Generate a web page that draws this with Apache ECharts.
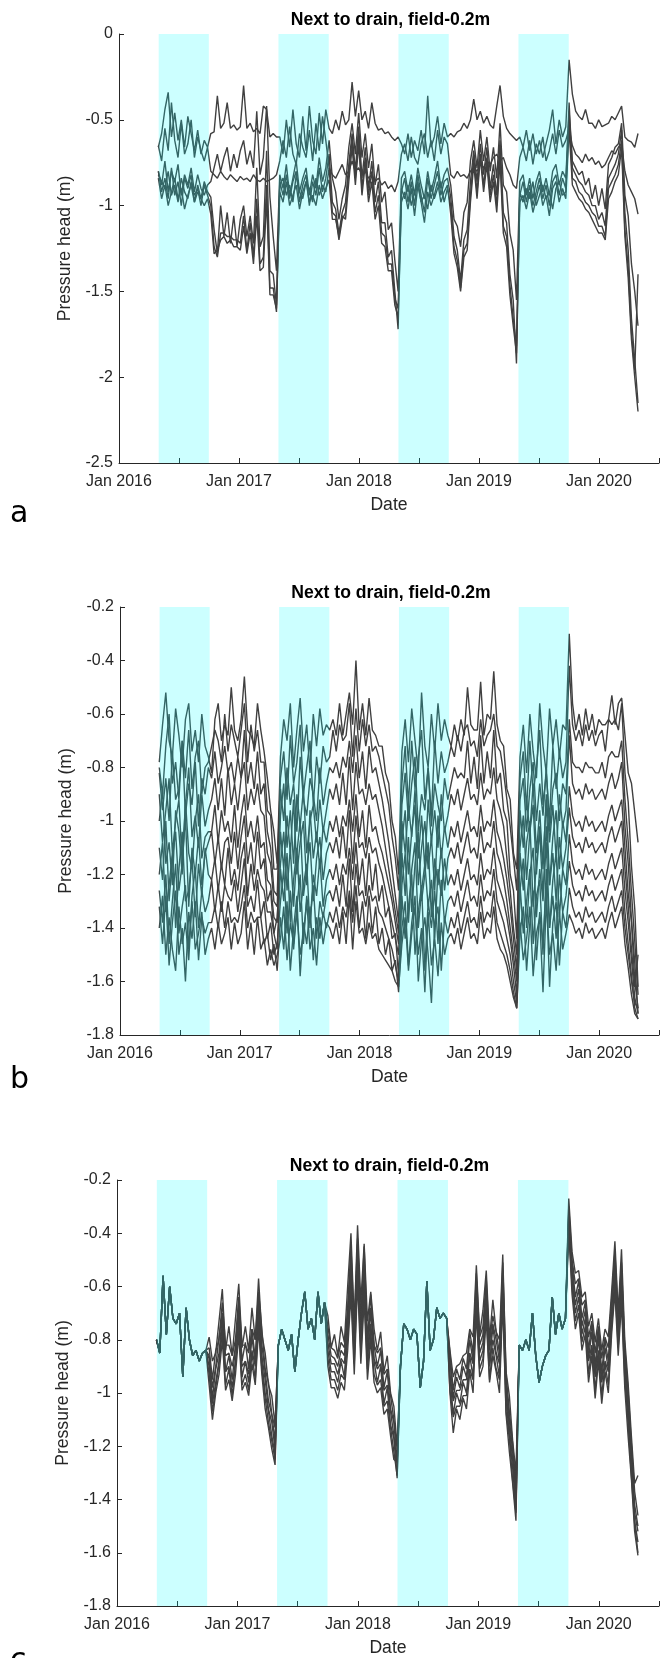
<!DOCTYPE html>
<html>
<head>
<meta charset="utf-8">
<title>Pressure head next to drain</title>
<script src="https://cdn.jsdelivr.net/npm/echarts@6/dist/echarts.min.js"></script>
<style>
  html, body { margin: 0; padding: 0; background: #ffffff; }
  #chart { width: 662px; height: 1658px; }
</style>
</head>
<body>
<div id="chart"></div>
<script>
// ---------------------------------------------------------------------------
// Sampling grid: one value every 10 days, 30 Apr 2016 .. 29 Apr 2020.
// Each series is stored per period: growing season (May-Sep) and off-season
// alternate, starting with the 2016 growing season.
// ---------------------------------------------------------------------------
const firstSample = '2016-04-30';
const sampleStepDays = 10;
const periodLengths = [16, 21, 15, 22, 15, 21, 15, 22];

// Growing seasons, shaded in cyan
const growingSeasons = [
  ['2016-05-01', '2016-10-01'],
  ['2017-05-01', '2017-10-01'],
  ['2018-05-01', '2018-10-01'],
  ['2019-05-01', '2019-10-01']
];

const xTickLabels = ['Jan 2016', 'Jan 2017', 'Jan 2018', 'Jan 2019', 'Jan 2020'];
const panelTitle = 'Next to drain, field-0.2m';
const panelLetters = ['a', 'b', 'c'];
const yTicksA = [0, -0.5, -1, -1.5, -2, -2.5];
const yTicksBC = [-0.2, -0.4, -0.6, -0.8, -1, -1.2, -1.4, -1.6, -1.8];

// ---------------------------------------------------------------------------
// Panel a: pressure head (cm)
// ---------------------------------------------------------------------------
const aLine1 = [
  [-66,-58,-44,-34,-60,-46,-62,-50,-66,-48,-58,-68,-56,-70,-62,-66],
  [-58,-57,-36,-55,-52,-40,-55,-53,-56,-54,-30,-55,-52,-57,-55,-58,-42,-44,-60,-58,-60],
  [-60,-70,-50,-66,-44,-64,-72,-48,-68,-42,-62,-70,-46,-64,-44],
  [-55,-58,-50,-56,-45,-53,-50,-28,-48,-33,-50,-45,-55,-40,-52,-56,-55,-58,-57,-60,-62,-60],
  [-64,-70,-58,-72,-62,-68,-56,-70,-36,-66,-60,-48,-64,-52,-60],
  [-58,-60,-57,-56,-52,-55,-50,-38,-50,-45,-52,-48,-53,-55,-42,-30,-48,-55,-58,-60,-62],
  [-60,-66,-56,-68,-58,-70,-62,-72,-64,-56,-44,-64,-50,-60,-54],
  [-15,-35,-45,-48,-50,-44,-52,-52,-55,-50,-54,-53,-52,-48,-50,-46,-42,-60,-62,-63,-66,-58]
];
const aLine2 = [
  [-65,-74,-55,-68,-40,-62,-72,-52,-70,-64,-50,-72,-60,-68,-74,-66],
  [-80,-82,-84,-80,-83,-85,-82,-84,-86,-83,-85,-84,-86,-82,-85,-86,-84,-86,-85,-84,-82],
  [-74,-62,-72,-54,-70,-76,-58,-66,-72,-56,-74,-52,-68,-48,-62],
  [-78,-82,-84,-80,-76,-82,-80,-74,-80,-78,-82,-80,-84,-82,-86,-84,-88,-86,-90,-88,-92,-86],
  [-70,-64,-74,-60,-72,-76,-64,-58,-72,-62,-74,-56,-70,-60,-64],
  [-82,-84,-80,-83,-82,-84,-80,-78,-80,-76,-78,-74,-76,-72,-70,-74,-72,-78,-82,-88,-90],
  [-72,-66,-74,-62,-76,-64,-70,-60,-74,-68,-58,-70,-56,-66,-62],
  [-55,-65,-70,-72,-75,-70,-74,-72,-76,-74,-78,-76,-72,-68,-70,-66,-64,-80,-88,-92,-96,-105]
];
const aLine3 = [
  [-80,-88,-74,-92,-80,-86,-76,-94,-82,-88,-78,-92,-82,-90,-94,-88],
  [-86,-78,-70,-80,-72,-66,-80,-70,-78,-68,-62,-76,-68,-78,-45,-82,-72,-42,-95,-118,-138],
  [-82,-90,-76,-94,-84,-74,-92,-84,-78,-94,-82,-90,-72,-86,-78],
  [-62,-84,-92,-108,-96,-88,-66,-52,-70,-46,-72,-58,-78,-64,-88,-76,-98,-92,-114,-110,-132,-150],
  [-84,-80,-92,-82,-94,-78,-88,-96,-80,-92,-84,-74,-90,-82,-78],
  [-88,-108,-112,-124,-104,-98,-74,-62,-78,-56,-74,-60,-80,-66,-84,-52,-88,-92,-116,-126,-155],
  [-86,-82,-94,-84,-96,-86,-80,-92,-84,-94,-80,-76,-88,-80,-84],
  [-45,-74,-78,-82,-80,-88,-84,-96,-88,-100,-90,-102,-76,-72,-66,-64,-52,-94,-106,-134,-150,-170]
];
const aLine4 = [
  [-80,-92,-84,-96,-78,-94,-86,-100,-84,-90,-82,-98,-88,-96,-86,-92],
  [-95,-114,-128,-100,-118,-104,-122,-106,-124,-108,-100,-118,-106,-122,-78,-124,-118,-68,-138,-140,-158],
  [-86,-94,-82,-96,-86,-80,-98,-88,-82,-100,-86,-94,-78,-92,-84],
  [-70,-98,-102,-116,-104,-98,-76,-58,-80,-54,-84,-66,-90,-74,-98,-86,-110,-110,-130,-126,-150,-172],
  [-92,-84,-98,-86,-100,-82,-94,-104,-84,-96,-88,-80,-94,-86,-84],
  [-95,-118,-126,-144,-120,-114,-86,-68,-86,-64,-82,-66,-90,-76,-94,-62,-104,-110,-140,-155,-192],
  [-94,-86,-98,-88,-100,-92,-84,-96,-88,-100,-86,-82,-94,-84,-90],
  [-40,-78,-82,-86,-88,-92,-94,-100,-100,-108,-104,-112,-84,-80,-76,-70,-56,-104,-126,-166,-190,-215]
];
const aLine5 = [
  [-82,-86,-90,-80,-94,-88,-98,-84,-92,-96,-86,-94,-90,-100,-88,-94],
  [-100,-124,-130,-116,-116,-118,-118,-120,-120,-122,-106,-126,-110,-130,-96,-134,-130,-88,-148,-148,-162],
  [-88,-84,-94,-88,-98,-82,-92,-96,-86,-90,-98,-84,-94,-88,-92],
  [-78,-104,-106,-120,-108,-104,-80,-62,-84,-58,-90,-72,-94,-80,-104,-94,-116,-118,-134,-134,-154,-160],
  [-90,-96,-88,-100,-92,-86,-98,-94,-102,-88,-96,-90,-86,-98,-90],
  [-100,-124,-132,-148,-126,-122,-94,-72,-92,-70,-88,-72,-94,-82,-100,-68,-112,-118,-146,-166,-182],
  [-92,-98,-90,-96,-86,-100,-94,-88,-96,-92,-102,-90,-86,-94,-92],
  [-50,-84,-86,-92,-94,-98,-100,-104,-106,-112,-112,-118,-90,-86,-82,-76,-62,-114,-136,-174,-196,-140]
];
const aLine6 = [
  [-84,-96,-88,-100,-92,-84,-96,-90,-102,-94,-88,-98,-92,-96,-100,-96],
  [-105,-128,-126,-120,-118,-122,-120,-124,-124,-126,-112,-128,-116,-134,-106,-138,-136,-96,-152,-152,-160],
  [-92,-98,-86,-100,-94,-88,-102,-92,-86,-98,-94,-100,-88,-96,-90],
  [-85,-108,-108,-118,-106,-108,-86,-66,-88,-64,-94,-76,-98,-86,-108,-100,-122,-124,-138,-138,-158,-165],
  [-98,-92,-102,-90,-106,-88,-98,-110,-92,-100,-94,-86,-98,-92,-88],
  [-105,-128,-136,-150,-130,-126,-98,-76,-96,-72,-92,-76,-98,-86,-104,-74,-116,-124,-152,-170,-186],
  [-98,-94,-102,-92,-104,-96,-88,-100,-94,-106,-90,-86,-98,-90,-96],
  [-55,-88,-92,-96,-98,-102,-104,-108,-112,-116,-116,-120,-96,-92,-86,-82,-66,-118,-142,-178,-200,-220]
];

// ---------------------------------------------------------------------------
// Panel b: pressure head (cm)
// ---------------------------------------------------------------------------
const bLine1 = [
  [-78,-64,-52,-70,-76,-58,-68,-80,-62,-56,-74,-66,-78,-60,-72,-76],
  [-82,-62,-56,-70,-64,-68,-50,-66,-70,-62,-46,-66,-68,-72,-56,-66,-74,-84,-96,-104,-116],
  [-76,-62,-70,-56,-80,-66,-54,-74,-64,-82,-60,-72,-58,-68,-64],
  [-66,-62,-68,-56,-68,-60,-52,-64,-40,-66,-56,-68,-54,-66,-68,-72,-72,-82,-86,-100,-106,-120],
  [-74,-62,-78,-58,-70,-82,-52,-72,-80,-60,-74,-56,-70,-62,-68],
  [-72,-64,-70,-62,-68,-50,-64,-66,-66,-48,-68,-60,-62,-44,-64,-70,-72,-88,-92,-112,-118],
  [-76,-64,-82,-60,-74,-84,-56,-72,-82,-58,-72,-62,-76,-64,-66],
  [-30,-56,-66,-60,-68,-58,-66,-60,-68,-62,-64,-64,-62,-53,-64,-56,-54,-68,-82,-86,-97,-108]
];
const bLine2 = [
  [-80,-90,-72,-60,-86,-78,-92,-70,-84,-66,-88,-76,-70,-90,-80,-78],
  [-72,-66,-70,-78,-60,-74,-64,-70,-76,-66,-56,-78,-64,-74,-66,-78,-78,-96,-98,-118,-118],
  [-84,-74,-92,-68,-86,-78,-64,-90,-80,-70,-94,-76,-86,-72,-78],
  [-76,-66,-74,-64,-70,-68,-56,-76,-58,-74,-62,-72,-64,-74,-72,-76,-82,-88,-94,-106,-114,-126],
  [-86,-72,-94,-70,-88,-76,-66,-92,-80,-98,-70,-86,-74,-82,-78],
  [-72,-76,-68,-74,-66,-64,-72,-70,-76,-62,-72,-68,-66,-60,-72,-74,-82,-92,-102,-114,-126],
  [-84,-74,-96,-70,-90,-80,-66,-94,-82,-100,-72,-88,-74,-84,-78],
  [-42,-64,-70,-66,-72,-64,-70,-66,-72,-68,-66,-74,-62,-64,-62,-66,-56,-82,-93,-117,-133,-162]
];
const bLine3 = [
  [-82,-96,-84,-100,-74,-92,-88,-70,-98,-86,-94,-78,-102,-84,-90,-80],
  [-84,-74,-86,-80,-72,-82,-78,-86,-76,-84,-66,-86,-78,-88,-74,-90,-86,-104,-110,-126,-128],
  [-88,-100,-80,-94,-86,-104,-76,-92,-98,-84,-90,-100,-80,-94,-86],
  [-80,-82,-78,-84,-76,-80,-70,-82,-68,-84,-74,-88,-72,-82,-80,-86,-92,-100,-108,-118,-128,-138],
  [-94,-82,-100,-86,-76,-104,-90,-96,-80,-102,-86,-94,-100,-84,-92],
  [-86,-80,-84,-82,-84,-70,-86,-76,-88,-68,-86,-74,-84,-66,-86,-82,-96,-100,-120,-126,-144],
  [-92,-84,-104,-88,-78,-100,-86,-98,-80,-104,-88,-82,-100,-86,-90],
  [-62,-78,-80,-80,-82,-78,-80,-80,-82,-82,-78,-84,-76,-74,-76,-76,-70,-92,-108,-127,-145,-165]
];
const bLine4 = [
  [-90,-108,-96,-84,-112,-100,-92,-116,-94,-80,-106,-98,-110,-90,-102,-96],
  [-92,-84,-96,-84,-98,-80,-94,-86,-96,-84,-78,-96,-88,-94,-86,-96,-98,-112,-116,-130,-132],
  [-98,-86,-110,-96,-116,-90,-102,-88,-112,-100,-94,-108,-92,-104,-96],
  [-88,-92,-86,-94,-82,-94,-76,-96,-78,-90,-88,-94,-86,-92,-90,-96,-102,-110,-118,-126,-134,-142],
  [-100,-112,-94,-106,-88,-114,-98,-118,-92,-108,-96,-110,-90,-104,-98],
  [-90,-94,-88,-96,-90,-84,-92,-90,-94,-82,-92,-88,-90,-80,-92,-96,-102,-114,-126,-140,-150],
  [-96,-110,-92,-104,-86,-112,-96,-118,-90,-108,-94,-114,-90,-102,-96],
  [-68,-86,-90,-88,-92,-86,-90,-88,-92,-90,-88,-92,-86,-82,-88,-84,-78,-102,-116,-137,-153,-172]
];
const bLine5 = [
  [-100,-88,-116,-108,-124,-96,-104,-120,-92,-112,-118,-100,-90,-114,-106,-104],
  [-104,-94,-108,-96,-104,-100,-108,-94,-110,-98,-90,-106,-100,-108,-98,-110,-108,-122,-124,-136,-138],
  [-104,-118,-98,-112,-92,-120,-108,-100,-124,-96,-114,-104,-118,-102,-108],
  [-100,-104,-98,-106,-98,-102,-92,-104,-90,-106,-96,-110,-94,-104,-102,-108,-112,-118,-124,-130,-138,-146],
  [-108,-96,-120,-104,-94,-124,-110,-100,-118,-106,-126,-98,-114,-102,-110],
  [-102,-106,-100,-108,-102,-96,-104,-102,-106,-94,-104,-100,-102,-92,-104,-108,-114,-122,-132,-144,-156],
  [-110,-98,-122,-104,-94,-120,-102,-116,-92,-124,-106,-96,-118,-100,-108],
  [-87,-98,-102,-100,-104,-98,-102,-100,-104,-102,-100,-104,-98,-94,-100,-96,-92,-110,-127,-138,-160,-170]
];
const bLine6 = [
  [-110,-122,-100,-130,-114,-104,-126,-116,-98,-132,-110,-120,-106,-124,-112,-108],
  [-104,-116,-106,-118,-108,-106,-116,-104,-118,-106,-98,-116,-108,-120,-104,-118,-114,-130,-126,-142,-136],
  [-116,-104,-126,-110,-132,-112,-100,-128,-118,-108,-130,-114,-106,-122,-112],
  [-108,-112,-106,-114,-102,-114,-96,-116,-98,-110,-108,-114,-106,-112,-110,-116,-120,-126,-132,-138,-144,-150],
  [-112,-128,-106,-134,-116,-104,-130,-120,-108,-136,-114,-124,-110,-126,-114],
  [-110,-114,-108,-116,-110,-104,-112,-110,-114,-102,-112,-108,-110,-100,-112,-116,-122,-130,-140,-150,-160],
  [-112,-126,-108,-100,-132,-116,-104,-128,-102,-124,-112,-130,-106,-118,-110],
  [-95,-106,-110,-108,-112,-106,-110,-108,-112,-110,-108,-112,-106,-102,-108,-104,-100,-118,-132,-148,-162,-150]
];
const bLine7 = [
  [-120,-108,-134,-124,-112,-140,-118,-104,-130,-126,-114,-136,-116,-128,-110,-120],
  [-122,-114,-126,-116,-124,-110,-124,-118,-126,-114,-108,-128,-116,-126,-118,-124,-126,-134,-134,-142,-148],
  [-118,-130,-112,-138,-122,-110,-134,-124,-116,-140,-120,-128,-114,-132,-122],
  [-118,-122,-116,-124,-116,-120,-110,-122,-108,-124,-114,-128,-112,-126,-116,-130,-124,-136,-132,-144,-142,-158],
  [-124,-112,-138,-118,-108,-140,-126,-116,-132,-122,-144,-118,-128,-114,-124],
  [-120,-124,-118,-126,-120,-114,-122,-120,-124,-112,-122,-118,-120,-110,-122,-126,-130,-136,-144,-154,-165],
  [-126,-114,-140,-120,-110,-136,-118,-130,-108,-140,-122,-112,-136,-118,-124],
  [-105,-116,-120,-118,-122,-116,-120,-118,-122,-120,-118,-122,-116,-112,-118,-114,-110,-126,-138,-152,-166,-172]
];
const bLine8 = [
  [-126,-138,-120,-146,-130,-116,-142,-132,-124,-148,-128,-118,-140,-126,-134,-130],
  [-122,-134,-124,-134,-124,-128,-130,-122,-134,-124,-114,-132,-128,-134,-122,-136,-130,-144,-138,-150,-146],
  [-130,-118,-142,-126,-148,-132,-120,-146,-128,-138,-124,-144,-130,-136,-128],
  [-126,-130,-124,-132,-120,-132,-114,-134,-116,-128,-126,-132,-124,-130,-128,-134,-136,-140,-144,-148,-154,-160],
  [-128,-144,-132,-120,-150,-134,-124,-156,-130,-140,-126,-146,-122,-138,-130],
  [-128,-132,-126,-134,-128,-122,-130,-128,-132,-120,-130,-126,-128,-118,-130,-134,-138,-144,-150,-160,-168],
  [-124,-142,-130,-118,-146,-128,-122,-150,-118,-140,-128,-144,-120,-134,-128],
  [-115,-124,-128,-126,-130,-124,-128,-126,-130,-128,-126,-130,-124,-120,-126,-122,-118,-134,-146,-158,-170,-174]
];
const bLine9 = [
  [-132,-146,-128,-154,-138,-126,-150,-140,-160,-134,-144,-130,-152,-136,-142,-138],
  [-138,-132,-140,-130,-140,-130,-138,-136,-138,-132,-124,-140,-134,-138,-136,-136,-146,-142,-152,-146,-156],
  [-136,-148,-130,-156,-140,-128,-158,-138,-146,-132,-152,-136,-144,-134,-140],
  [-134,-138,-132,-140,-132,-136,-126,-138,-124,-140,-130,-144,-128,-142,-132,-146,-140,-150,-144,-156,-152,-164],
  [-140,-130,-154,-138,-128,-160,-144,-136,-150,-168,-138,-132,-156,-136,-142],
  [-136,-140,-134,-142,-136,-130,-138,-136,-140,-128,-138,-134,-136,-126,-138,-142,-146,-150,-156,-164,-170],
  [-142,-132,-156,-138,-126,-152,-134,-146,-124,-162,-138,-130,-154,-134,-140],
  [-125,-132,-136,-134,-138,-132,-136,-134,-138,-136,-134,-138,-132,-128,-134,-130,-126,-140,-150,-160,-168,-170]
];
const bLine10 = [
  [-140,-128,-150,-136,-148,-156,-132,-146,-138,-152,-130,-148,-142,-134,-150,-144],
  [-140,-148,-138,-146,-142,-136,-148,-138,-146,-142,-130,-148,-138,-150,-136,-148,-144,-154,-148,-154,-150],
  [-144,-132,-152,-138,-146,-134,-150,-142,-130,-148,-140,-154,-136,-146,-138],
  [-140,-144,-138,-146,-134,-146,-128,-148,-130,-142,-140,-146,-138,-144,-142,-148,-150,-152,-154,-156,-160,-162],
  [-146,-136,-156,-142,-132,-150,-140,-164,-134,-154,-144,-158,-138,-150,-144],
  [-142,-146,-140,-148,-142,-136,-144,-142,-146,-134,-144,-140,-142,-132,-144,-148,-150,-154,-160,-166,-170],
  [-138,-152,-144,-132,-158,-142,-136,-164,-130,-150,-142,-156,-134,-148,-142],
  [-135,-138,-142,-140,-144,-138,-142,-140,-144,-142,-140,-144,-138,-134,-140,-136,-132,-146,-155,-165,-172,-174]
];

// ---------------------------------------------------------------------------
// Panel c: pressure head (cm). All sensors read the same during the growing
// seasons; the off-season readings differ per sensor.
// ---------------------------------------------------------------------------
const cGrowing = [
  [-80,-85,-56,-78,-60,-72,-74,-70,-94,-68,-80,-86,-84,-88,-85,-84],
  [-82,-76,-80,-84,-78,-92,-80,-70,-62,-76,-72,-80,-62,-74,-66],
  [-90,-74,-76,-80,-76,-78,-98,-88,-58,-84,-80,-68,-72,-70,-72],
  [-82,-84,-80,-84,-70,-86,-96,-90,-86,-84,-64,-78,-70,-76,-72]
];
const cOff1 = [
  [-79,-88,-85,-73,-61,-84,-75,-86,-72,-59,-83,-75,-84,-68,-80,-57,-78,-85,-97,-101,-112],
  [-71,-83,-78,-86,-75,-81,-60,-40,-74,-37,-66,-44,-73,-62,-76,-84,-77,-92,-86,-100,-105,-120],
  [-84,-94,-90,-89,-86,-85,-76,-79,-52,-78,-69,-54,-80,-65,-77,-80,-48,-92,-101,-118,-130],
  [-27,-47,-55,-54,-64,-62,-75,-70,-81,-72,-84,-76,-79,-62,-43,-70,-46,-80,-96,-116,-134,-131]
];
const cOff2 = [
  [-83,-95,-84,-80,-66,-82,-82,-86,-80,-64,-82,-82,-85,-76,-80,-62,-76,-91,-96,-108,-113],
  [-75,-83,-84,-87,-81,-83,-68,-45,-75,-42,-73,-45,-80,-63,-82,-85,-83,-93,-91,-101,-110,-121],
  [-85,-99,-91,-95,-87,-91,-77,-85,-55,-79,-75,-57,-81,-71,-77,-85,-51,-93,-107,-119,-135],
  [-30,-50,-59,-57,-67,-65,-79,-73,-85,-75,-87,-79,-83,-65,-47,-71,-51,-83,-99,-119,-137,-146]
];
const cOff3 = [
  [-86,-98,-90,-79,-70,-86,-85,-90,-83,-66,-88,-81,-91,-76,-87,-64,-82,-92,-103,-108,-118],
  [-78,-86,-87,-90,-84,-86,-70,-48,-80,-44,-74,-50,-81,-68,-82,-90,-84,-98,-92,-106,-111,-126],
  [-88,-102,-94,-98,-90,-94,-80,-88,-58,-82,-78,-60,-84,-74,-80,-88,-54,-96,-110,-122,-138],
  [-32,-51,-64,-58,-72,-66,-84,-74,-90,-76,-92,-80,-88,-66,-50,-74,-54,-84,-104,-120,-142,-150]
];
const cOff4 = [
  [-87,-102,-91,-85,-71,-92,-86,-95,-83,-70,-90,-88,-93,-79,-89,-67,-86,-95,-106,-111,-121],
  [-81,-89,-89,-93,-87,-89,-73,-51,-81,-46,-79,-51,-86,-69,-87,-91,-89,-99,-97,-107,-116,-127],
  [-93,-103,-99,-99,-95,-95,-85,-89,-61,-85,-81,-61,-89,-75,-85,-89,-57,-99,-113,-125,-141],
  [-33,-54,-67,-61,-75,-69,-87,-77,-93,-79,-95,-83,-91,-69,-53,-77,-57,-87,-107,-123,-145,-152]
];
const cOff5 = [
  [-90,-104,-96,-88,-74,-92,-90,-98,-88,-72,-94,-88,-96,-84,-90,-70,-88,-100,-107,-116,-123],
  [-84,-92,-92,-96,-88,-94,-76,-55,-85,-50,-81,-57,-87,-74,-88,-96,-90,-104,-98,-112,-117,-132],
  [-94,-108,-100,-104,-96,-100,-86,-94,-64,-88,-84,-66,-90,-80,-86,-94,-60,-102,-116,-128,-144],
  [-35,-57,-70,-64,-78,-72,-88,-82,-94,-84,-96,-88,-92,-74,-56,-80,-60,-90,-110,-126,-148,-156]
];
const cOff6 = [
  [-93,-107,-98,-89,-77,-97,-91,-101,-89,-75,-97,-93,-99,-85,-95,-73,-91,-102,-111,-118,-125],
  [-87,-95,-95,-99,-93,-95,-80,-59,-89,-54,-85,-61,-91,-77,-93,-97,-95,-105,-103,-113,-122,-131],
  [-99,-109,-105,-105,-101,-101,-91,-95,-67,-91,-87,-69,-95,-83,-91,-95,-63,-107,-117,-133,-145],
  [-37,-60,-73,-67,-81,-75,-93,-83,-99,-85,-101,-89,-97,-75,-59,-83,-63,-95,-111,-131,-149,-160]
];
const cOff7 = [
  [-97,-110,-100,-93,-80,-99,-95,-103,-93,-78,-99,-96,-101,-89,-97,-76,-93,-106,-113,-121,-127],
  [-90,-98,-98,-102,-96,-99,-84,-63,-93,-58,-89,-65,-95,-80,-96,-100,-98,-108,-106,-116,-125,-126],
  [-100,-115,-106,-110,-102,-106,-92,-100,-70,-94,-90,-72,-96,-86,-92,-100,-66,-108,-122,-134,-148],
  [-39,-63,-76,-70,-84,-78,-96,-86,-102,-88,-104,-92,-100,-78,-62,-86,-66,-98,-116,-132,-152,-161]
];

// ---------------------------------------------------------------------------
// Helpers
// ---------------------------------------------------------------------------
const DAY_MS = 86400000;

function toDecimalYear(ms) {
  const y = new Date(ms).getUTCFullYear();
  const y0 = Date.UTC(y, 0, 1);
  const y1 = Date.UTC(y + 1, 0, 1);
  return y + (ms - y0) / (y1 - y0);
}
function parseDay(s) {
  const [y, m, d] = s.split('-').map(Number);
  return Date.UTC(y, m - 1, d);
}

const nSamples = periodLengths.reduce((s, n) => s + n, 0);
const sampleYears = [];
for (let i = 0; i < nSamples; i++) {
  sampleYears.push(toDecimalYear(parseDay(firstSample) + i * sampleStepDays * DAY_MS));
}

function joinPeriods(name, periods) {
  periods.forEach((p, k) => {
    if (p.length !== periodLengths[k]) {
      throw new Error(name + ': period ' + k + ' has ' + p.length + ' values, expected ' + periodLengths[k]);
    }
  });
  return [].concat(...periods);
}
function interleave(growing, off) {
  const out = [];
  for (let k = 0; k < growing.length; k++) { out.push(growing[k], off[k]); }
  return out;
}
function toPoints(valuesCm) {
  return valuesCm.map((v, i) => [sampleYears[i], v / 100]);
}

const panels = [
  { lines: { aLine1, aLine2, aLine3, aLine4, aLine5, aLine6 } },
  { lines: { bLine1, bLine2, bLine3, bLine4, bLine5, bLine6, bLine7, bLine8, bLine9, bLine10 } },
  { lines: { cOff1, cOff2, cOff3, cOff4, cOff5, cOff6, cOff7 }, shared: cGrowing }
];

// Layout of the three axes boxes (pixels)
const grids = [
  { left: 119, top: 34, width: 543, height: 429 },
  { left: 120, top: 607, width: 542, height: 428 },
  { left: 117, top: 1180, width: 545, height: 429 }
];
const yRanges = [
  { min: yTicksA[yTicksA.length - 1], max: yTicksA[0], interval: 0.5 },
  { min: yTicksBC[yTicksBC.length - 1], max: yTicksBC[0], interval: 0.2 },
  { min: yTicksBC[yTicksBC.length - 1], max: yTicksBC[0], interval: 0.2 }
];

const AXIS_COLOR = '#262626';
const LINE_COLOR = '#404040';
const FONT = '"Liberation Sans", Arial, Helvetica, sans-serif';

const seasonBands = growingSeasons.map(([s, e]) => [toDecimalYear(parseDay(s)), toDecimalYear(parseDay(e))]);

const xAxes = [], yAxes = [], series = [], graphics = [];

grids.forEach((g, p) => {
  xAxes.push({
    type: 'value', gridIndex: p, min: 2016, max: 2020.5, interval: 0.5,
    name: 'Date', nameLocation: 'middle', nameGap: 33,
    nameTextStyle: { fontFamily: FONT, fontSize: 17.6, color: AXIS_COLOR },
    axisLine: { show: true, onZero: false, lineStyle: { color: AXIS_COLOR, width: 1 } },
    axisTick: { show: true, inside: true, length: 5, lineStyle: { color: AXIS_COLOR } },
    splitLine: { show: false },
    axisLabel: {
      fontFamily: FONT, fontSize: 16, color: AXIS_COLOR, margin: 11,
      showMaxLabel: true,
      formatter: v => {
        const r = Math.round(v);
        if (Math.abs(v - r) > 1e-6) return '';
        return xTickLabels[r - 2016] || '';
      }
    }
  });
  const yr = yRanges[p];
  yAxes.push({
    type: 'value', gridIndex: p, min: yr.min, max: yr.max, interval: yr.interval,
    name: 'Pressure head (m)', nameLocation: 'middle', nameGap: 42, nameRotate: 90,
    nameTextStyle: { fontFamily: FONT, fontSize: 17.6, color: AXIS_COLOR },
    axisLine: { show: true, onZero: false, lineStyle: { color: AXIS_COLOR, width: 1 } },
    axisTick: { show: true, inside: true, length: 5, lineStyle: { color: AXIS_COLOR } },
    splitLine: { show: false },
    axisLabel: {
      fontFamily: FONT, fontSize: 16, color: AXIS_COLOR, margin: 6,
      formatter: v => String(+v.toFixed(2))
    }
  });

  const panel = panels[p];
  Object.entries(panel.lines).forEach(([name, periods]) => {
    const full = panel.shared ? interleave(panel.shared, periods) : periods;
    const values = joinPeriods(name, full);
    series.push({
      name, type: 'line', xAxisIndex: p, yAxisIndex: p,
      data: toPoints(values),
      showSymbol: false, symbol: 'none', smooth: false,
      lineStyle: { color: LINE_COLOR, width: 1.4 },
      silent: true, animation: false, z: 2
    });
  });

  // Growing-season shading, drawn translucent over the lines
  series.push({
    type: 'custom', xAxisIndex: p, yAxisIndex: p, z: 10, silent: true, animation: false,
    data: seasonBands,
    encode: { x: [0, 1] },
    renderItem: (params, api) => {
      const cs = params.coordSys;
      const x0 = api.coord([api.value(0), yr.max])[0];
      const x1 = api.coord([api.value(1), yr.max])[0];
      return {
        type: 'rect',
        shape: { x: x0, y: cs.y, width: x1 - x0, height: cs.height },
        style: { fill: 'rgba(0, 255, 255, 0.2)' }
      };
    }
  });

  graphics.push({
    type: 'text', x: g.left + g.width / 2, y: g.top - 14,
    style: {
      text: panelTitle, font: 'bold 17.6px ' + FONT, fill: '#000000',
      align: 'center', verticalAlign: 'middle', textAlign: 'center', textVerticalAlign: 'middle'
    }
  });
});

const letterY = [514, 1080, 1661];
panelLetters.forEach((t, p) => {
  graphics.push({
    type: 'text', x: 10, y: letterY[p],
    style: {
      text: t, font: '30px "DejaVu Sans", Verdana, sans-serif', fill: '#000000',
      align: 'left', verticalAlign: 'middle', textAlign: 'left', textVerticalAlign: 'middle'
    }
  });
});

const chart = echarts.init(document.getElementById('chart'), null, { renderer: 'canvas' });
chart.setOption({
  animation: false,
  backgroundColor: '#ffffff',
  grid: grids.map(g => Object.assign({ containLabel: false }, g)),
  xAxis: xAxes,
  yAxis: yAxes,
  series,
  graphic: { elements: graphics }
});
</script>
</body>
</html>
